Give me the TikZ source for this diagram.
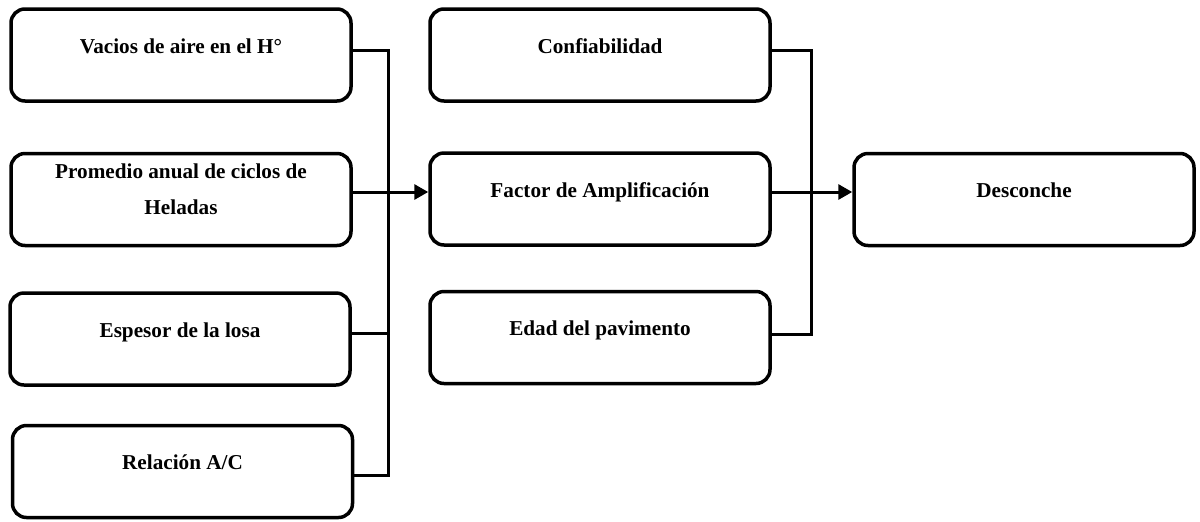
\documentclass[tikz,border=0pt]{standalone}
\usepackage{fontspec}
\setmainfont{Liberation Serif}
\usetikzlibrary{arrows.meta}
\tikzset{
  caja/.style={draw, line width=1.75pt, rounded corners=7pt, minimum width=170pt, minimum height=46pt,
    inner sep=0pt, align=center, font=\fontsize{10.6}{12.7}\selectfont\bfseries,
    text height=7pt, text depth=9pt},
  linea/.style={line width=1.5pt},
  flecha/.style={line width=1.5pt, -{Triangle[length=7pt,width=7.5pt]}}
}
\begin{document}
\begin{tikzpicture}[x=0.5pt, y=-0.5pt]
    \useasboundingbox (0, 0) rectangle (1200, 521);
    \node [caja] (vacios) at (181, 55) {Vacios de aire en el H°};
    \node [caja, text height=14.5pt, text depth=0pt] (promedio) at (181, 199.5) {Promedio anual de ciclos de\\[5.3pt] Heladas};
    \node [caja] (espesor) at (180, 339) {Espesor de la losa};
    \node [caja] (relacion) at (182.5, 471.5) {Relación A/C};
    \node [caja] (confiab) at (600, 55) {Confiabilidad};
    \node [caja] (factor) at (600, 199) {Factor de Amplificación};
    \node [caja] (edad) at (600, 337.5) {Edad del pavimento};
    \node [caja] (desconche) at (1024, 199.5) {Desconche};
    \coordinate (busL) at (388, 0);
    \coordinate (busM) at (811, 0);
    \draw [linea] ([yshift=2.5pt]vacios.east) -| ([yshift=-2.2pt]relacion.east -| busL) -- ([yshift=-2.2pt]relacion.east);
    \draw [linea] ([yshift=3pt]espesor.east) -- ([yshift=3pt]espesor.east -| busL);
    \draw [flecha] ([yshift=3.75pt]promedio.east) -- ([yshift=3.75pt]promedio.east -| factor.west);
    \draw [linea] ([yshift=2.5pt]confiab.east) -| ([yshift=1.75pt]edad.east -| busM) -- ([yshift=1.75pt]edad.east);
    \draw [flecha] ([yshift=3.5pt]factor.east) -- ([yshift=3.5pt]factor.east -| desconche.west);
  \end{tikzpicture}
\end{document}
